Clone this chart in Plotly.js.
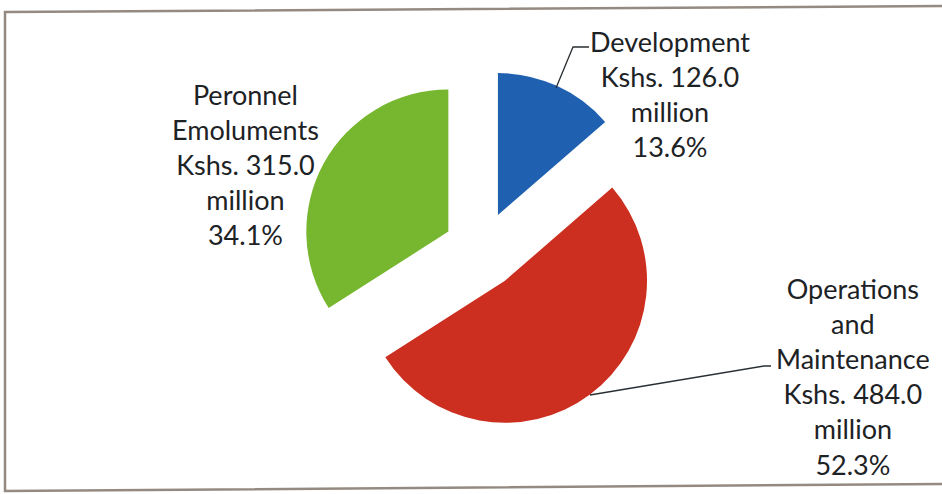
<!DOCTYPE html>
<html>
<head>
<meta charset="utf-8">
<script src="https://cdn.plot.ly/plotly-3.0.1.min.js"></script>
<style>
  html, body { margin: 0; padding: 0; background: #ffffff; }
  #chart { width: 942px; height: 494px; }
</style>
</head>
<body>
<div id="chart"></div>
<script>
// ---- data ----
const categories = ['Development', 'Operations and Maintenance', 'Peronnel Emoluments'];
const labelLines = [['Development'], ['Operations', 'and', 'Maintenance'], ['Peronnel', 'Emoluments']];
const valuesMillion = [126.0, 484.0, 315.0];
const currency = 'Kshs.';
const unit = 'million';

// ---- style / layout ----
const W = 942, H = 494;
const sliceColors = ['#1F60B0', '#CC2E1F', '#76B72F'];
const textColor = '#1d2225';
const fontFamily = 'Lato, "Open Sans", sans-serif';
const labelPx = [[670, 94], [853, 376], [245, 164]];
const leaderPaths = [
  [[556, 88], [573, 47], [589, 47]],
  [[590, 395], [764, 366], [771, 366]]
];

const px = x => x / W;
const py = y => 1 - y / H;

const total = valuesMillion.reduce((a, b) => a + b, 0);

const trace = {
  type: 'pie',
  labels: categories,
  values: valuesMillion,
  sort: false,
  direction: 'clockwise',
  rotation: 0,
  pull: [0.27, 0.27, 0.27],
  textinfo: 'none',
  hoverinfo: 'skip',
  showlegend: false,
  marker: { colors: sliceColors, line: { width: 0 } },
  domain: { x: [px(482 - 180.4), px(482 + 180.4)], y: [py(250 + 180.4), py(250 - 180.4)] }
};

const annotations = categories.map((c, i) => {
  const pct = (valuesMillion[i] / total * 100).toFixed(1) + '%';
  const lines = labelLines[i].concat([currency + ' ' + valuesMillion[i].toFixed(1), unit, pct]);
  return {
    xref: 'paper', yref: 'paper',
    x: px(labelPx[i][0]), y: py(labelPx[i][1]),
    xanchor: 'center', yanchor: 'middle',
    text: lines.join('<br>'),
    showarrow: false, align: 'center',
    font: { family: fontFamily, size: 27, color: textColor }
  };
});

const shapes = leaderPaths.map(pts => ({
  type: 'path', xref: 'paper', yref: 'paper',
  path: pts.map((p, k) => (k ? 'L' : 'M') + px(p[0]) + ',' + py(p[1])).join(' '),
  line: { color: '#2a2f33', width: 1.3 }
}));
// frame of the original figure
shapes.push({
  type: 'path', xref: 'paper', yref: 'paper',
  path: 'M' + px(W + 2) + ',' + py(6) + ' L' + px(5) + ',' + py(12) + ' L' + px(5) + ',' + py(491) + ' L' + px(W + 2) + ',' + py(484),
  line: { color: '#948a82', width: 2.5 }
});

const layout = {
  width: W, height: H,
  margin: { l: 0, r: 0, t: 0, b: 0 },
  paper_bgcolor: '#ffffff',
  plot_bgcolor: '#ffffff',
  showlegend: false,
  annotations: annotations,
  shapes: shapes
};

Plotly.newPlot('chart', [trace], layout, { displayModeBar: false, staticPlot: true });
</script>
</body>
</html>
